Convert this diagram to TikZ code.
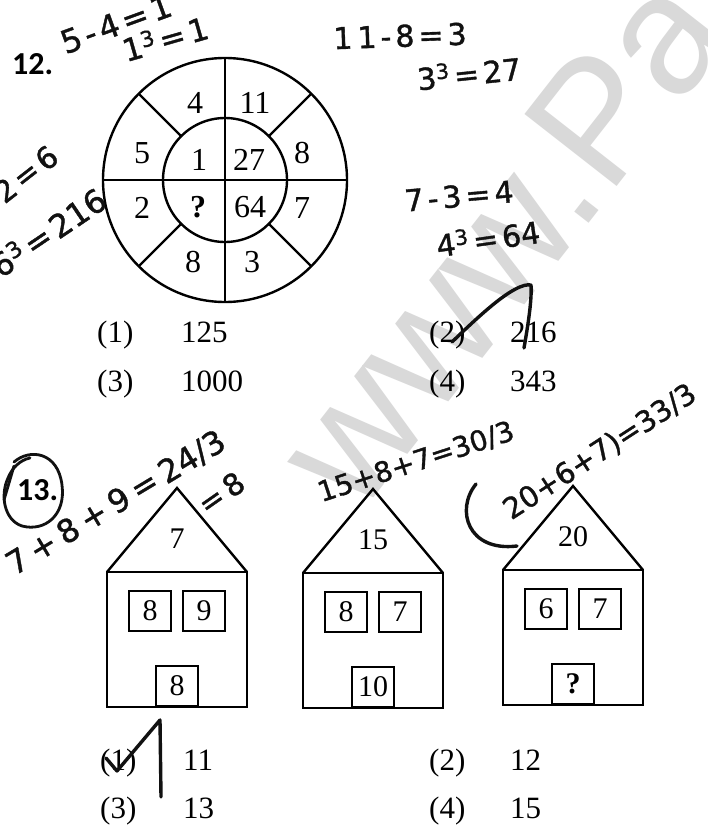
\documentclass[tikz,border=0pt]{standalone}
\usepackage{fontspec}
\setmainfont{Liberation Serif}
\newfontfamily\hand{DejaVu Sans}[FakeBold=1.2]
\newfontfamily\qfont{Carlito}
\newfontfamily\wmfont{Liberation Sans}
\newcommand\hgap{\hspace{4pt}}
\newcommand\hgapw{\hspace{6pt}}
\definecolor{ink}{HTML}{111111}
\definecolor{wmgray}{HTML}{D9D9D9}
\begin{document}
\begin{tikzpicture}[x=1pt,y=-1pt,
  ln/.style={line width=2.4pt},
  num/.style={font=\fontsize{32}{32}\selectfont, inner sep=0pt},
  hnum/.style={font=\fontsize{30}{30}\selectfont, inner sep=0pt},
  winbox/.style={draw, line width=2.1pt, minimum width=42pt, minimum height=40pt, inner sep=0pt, font=\fontsize{30}{30}\selectfont},
  opt/.style={anchor=base west, inner sep=0pt, font=\fontsize{31}{31}\selectfont},
  qlabel/.style={anchor=base west, inner sep=0pt, font=\qfont\bfseries\fontsize{32}{32}\selectfont},
  hw/.style={font=\hand\fontsize{30}{30}\selectfont, text=ink, inner sep=0pt},
  hwline/.style={draw=ink, line width=3.4pt, line cap=round, line join=round},
  wm/.style={font=\wmfont\fontsize{170}{170}\selectfont, text=wmgray, inner sep=0pt}
]
\useasboundingbox (0,0) rectangle (708,832);
\fill[white] (0,0) rectangle (708,832);

% watermark
\node[wm, rotate=52, anchor=base west] (wm) at (358,518) {www.Pa};

% ---------- Question 12 ----------
\node[qlabel] (q12) at (12,75) {12.};
\coordinate (cc) at (225,180);
\draw[ln] (cc) circle[radius=122pt];
\draw[ln] (cc) circle[radius=62pt];
\draw[ln] ([shift={(90:122pt)}]cc) -- ([shift={(-90:122pt)}]cc);
\draw[ln] ([shift={(180:122pt)}]cc) -- ([shift={(0:122pt)}]cc);
\foreach \a in {45,135,225,315}
  \draw[ln] ([shift={(\a:62pt)}]cc) -- ([shift={(\a:122pt)}]cc);

\node[num] (o1) at (195,103) {4};
\node[num] (o2) at (255,103) {11};
\node[num] (o3) at (302,153) {8};
\node[num] (o4) at (302,208) {7};
\node[num] (o5) at (252,262) {3};
\node[num] (o6) at (193,262) {8};
\node[num] (o7) at (142,208) {2};
\node[num] (o8) at (142,153) {5};
\node[num] (i1) at (199,160) {1};
\node[num] (i2) at (249,160) {27};
\node[num] (i3) at (250,207) {64};
\node[num] (i4) at (198,207) {\textbf{?}};

\node[opt] (a1l) at (97,342) {(1)};  \node[opt] (a1v) at (181,342) {125};
\node[opt] (a2l) at (429,342) {(2)}; \node[opt] (a2v) at (510,342) {216};
\node[opt] (a3l) at (97,391) {(3)};  \node[opt] (a3v) at (181,391) {1000};
\node[opt] (a4l) at (429,391) {(4)}; \node[opt] (a4v) at (510,391) {343};

% ---------- Question 13 ----------
\node[qlabel] (q13) at (17,500) {13.};
\foreach \c/\t/\r/\wa/\wb/\d/\n in {177/572/7/8/9/8/ha, 373/573/15/8/7/10/hb, 573/570/20/6/7/\textbf{?}/hc}{
  \draw[ln] (\c-70,\t) -- (\c-70,\t+135) -- (\c+70,\t+135) -- (\c+70,\t) -- cycle;
  \draw[ln, line join=miter] (\c-70,\t) -- (\c,\t-84) -- (\c+70,\t);
  \node[hnum] (\n-roof) at (\c,\t-33) {\r};
  \node[winbox] (\n-w1) at (\c-27,\t+39) {\wa};
  \node[winbox] (\n-w2) at (\c+27,\t+39) {\wb};
  \node[winbox, anchor=south] (\n-door) at (\c,\t+135) {\d};
}

\node[opt] (b1l) at (100,770) {(1)};  \node[opt] (b1v) at (183,770) {11};
\node[opt] (b2l) at (429,770) {(2)}; \node[opt] (b2v) at (510,770) {12};
\node[opt] (b3l) at (100,818) {(3)};  \node[opt] (b3v) at (183,818) {13};
\node[opt] (b4l) at (429,818) {(4)}; \node[opt] (b4v) at (510,818) {15};

% ---------- handwriting ----------
\node[hw, rotate=20, font=\hand\fontsize{32}{32}\selectfont] (h1) at (116,24) {5\hgap-\hgap4\hgap=\hgap1};
\node[hw, rotate=16, font=\hand\fontsize{31}{31}\selectfont] (h2) at (165,38) {1\textsuperscript{3}\hgap=\hgap1};
\node[hw, rotate=2] (h3) at (400,36) {1\,1\hgap-\hgap8\hgap=\hgap3};
\node[hw, rotate=6] (h4) at (469,73) {3\textsuperscript{3}\hgap=\hgap27};
\node[hw, rotate=38] (h5) at (26,174) {2\hgap=\hgap6};
\node[hw, rotate=34, font=\hand\fontsize{32}{32}\selectfont] (h6) at (48,232) {6\textsuperscript{3}\hgap=\hgap216};
\node[hw, rotate=5] (h7) at (459,196) {7\hgap-\hgap3\hgap=\hgap4};
\node[hw, rotate=8] (h8) at (488,238) {4\textsuperscript{3}\hgap=\hgap64};
\node[hw, rotate=31, font=\hand\fontsize{32}{32}\selectfont] (h9) at (116,503) {7\hgapw+\hgapw8\hgapw+\hgapw9\hgapw=\hgapw24/3};
\node[hw, rotate=35] (h10) at (221,493) {=\,8};
\node[hw, rotate=18, font=\hand\fontsize{28}{28}\selectfont] (h11) at (416,462) {15+8+7=30/3};
\node[hw, rotate=33, font=\hand\fontsize{29}{29}\selectfont] (h12) at (600,452) {20+6+7)=33/3};

% hand strokes
\draw[hwline] (476,484) .. controls (455,510) and (468,552) .. (517,546);
\draw[hwline] (452,342) .. controls (480,315) and (515,282) .. (531,285) .. controls (532,300) and (528,325) .. (524,348);
\draw[hwline] (106,758) -- (117,771) -- (160,720) -- (161,797);
\draw[hwline, line width=2.8pt] (14,462) .. controls (30,448) and (58,452) .. (62,485)
  .. controls (66,515) and (45,532) .. (22,526) .. controls (4,520) and (0,495) .. (8,478)
  .. controls (12,468) and (20,460) .. (30,458);
\draw[hwline, line width=2.8pt] (4,500) -- (14,466);
\end{tikzpicture}
\end{document}
